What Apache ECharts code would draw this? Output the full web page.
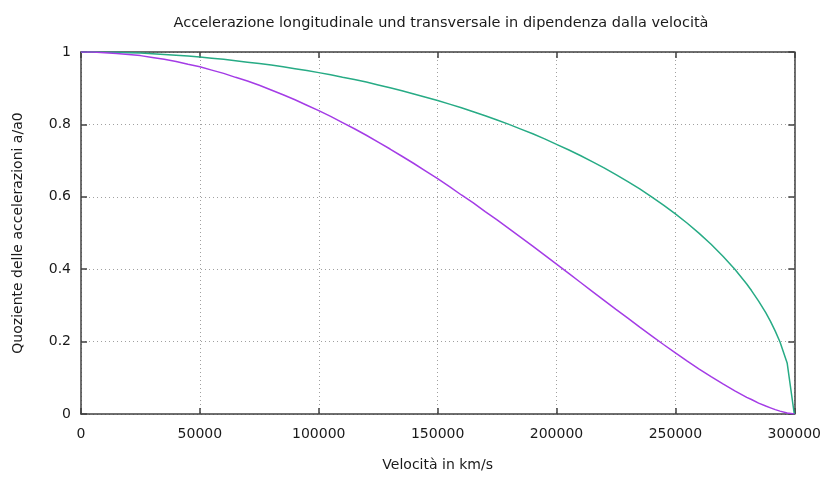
<!DOCTYPE html>
<html>
<head>
<meta charset="utf-8">
<script src="https://cdn.jsdelivr.net/npm/echarts@6/dist/echarts.min.js"></script>
<style>
  html, body { margin: 0; padding: 0; background: #fff; }
  #chart { width: 824px; height: 477px; }
</style>
</head>
<body>
<div id="chart"></div>
<script>
const velocities = [0, 5000, 10000, 15000, 20000, 25000, 30000, 35000, 40000, 45000,
  50000, 55000, 60000, 65000, 70000, 75000, 80000, 85000, 90000, 95000,
  100000, 105000, 110000, 115000, 120000, 125000, 130000, 135000, 140000, 145000,
  150000, 155000, 160000, 165000, 170000, 175000, 180000, 185000, 190000, 195000,
  200000, 205000, 210000, 215000, 220000, 225000, 230000, 235000, 240000, 245000,
  250000, 255000, 260000, 265000, 270000, 275000, 280000, 282000, 285000, 288000,
  290000, 292000, 294000, 297000, 300000]
const transversale = [1, 1.000, 0.999, 0.999, 0.998, 0.997, 0.995, 0.993, 0.991, 0.989,
  0.986, 0.983, 0.980, 0.976, 0.972, 0.968, 0.964, 0.959, 0.954, 0.949,
  0.943, 0.937, 0.930, 0.924, 0.917, 0.909, 0.901, 0.893, 0.884, 0.875,
  0.866, 0.856, 0.846, 0.835, 0.824, 0.812, 0.800, 0.787, 0.774, 0.760,
  0.745, 0.730, 0.714, 0.697, 0.680, 0.661, 0.642, 0.622, 0.600, 0.577,
  0.553, 0.527, 0.499, 0.469, 0.436, 0.400, 0.359, 0.341, 0.312, 0.280,
  0.256, 0.229, 0.199, 0.141, 0]
const longitudinale = [1, 1.000, 0.998, 0.996, 0.993, 0.990, 0.985, 0.980, 0.974, 0.966,
  0.959, 0.950, 0.941, 0.930, 0.920, 0.908, 0.895, 0.882, 0.868, 0.853,
  0.838, 0.822, 0.805, 0.788, 0.770, 0.751, 0.732, 0.712, 0.692, 0.671,
  0.650, 0.628, 0.605, 0.583, 0.559, 0.536, 0.512, 0.488, 0.464, 0.439,
  0.414, 0.389, 0.364, 0.339, 0.314, 0.289, 0.265, 0.240, 0.216, 0.192,
  0.169, 0.146, 0.124, 0.103, 0.083, 0.064, 0.046, 0.040, 0.030, 0.022,
  0.017, 0.012, 0.008, 0.003, 0]
const xTicks = [0, 50000, 100000, 150000, 200000, 250000, 300000]
const yTicks = [0, 0.2, 0.4, 0.6, 0.8, 1]

const font = 'DejaVu Sans'
const fontSize = 14
const axisColor = '#404040'
const textColor = '#1a1a1a'

const chart = echarts.init(document.getElementById('chart'), null, { renderer: 'canvas' })

const frameAxis = (extra) => Object.assign({
  axisLine: { show: true, onZero: false, lineStyle: { color: axisColor, width: 1.5 } },
  axisTick: { show: true, inside: true, length: 6, lineStyle: { color: axisColor, width: 1.5 } },
  axisLabel: { show: false },
  splitLine: { show: false },
}, extra)

chart.setOption({
  animation: false,
  backgroundColor: '#fff',
  title: {
    text: 'Accelerazione longitudinale und transversale in dipendenza dalla velocità',
    left: 436, top: 11, textAlign: 'center',
    textStyle: { fontFamily: font, fontSize: 14.5, fontWeight: 'normal', color: textColor },
  },
  grid: { left: 81, right: 27, top: 52, bottom: 59 },
  xAxis: [
    frameAxis({
      type: 'value', min: xTicks[0], max: xTicks[xTicks.length - 1], interval: 50000,
      name: 'Velocità in km/s', nameLocation: 'middle', nameGap: 44,
      nameTextStyle: { fontFamily: font, fontSize: fontSize, color: textColor },
      axisLabel: { show: true, margin: 13, fontFamily: font, fontSize: fontSize, color: textColor,
        formatter: v => String(v) },
      splitLine: { show: true, lineStyle: { color: '#a0a0a0', type: [1, 3], width: 1 } },
    }),
    frameAxis({
      type: 'value', position: 'top', min: xTicks[0], max: xTicks[xTicks.length - 1], interval: 50000,
    }),
  ],
  yAxis: [
    frameAxis({
      type: 'value', min: yTicks[0], max: yTicks[yTicks.length - 1], interval: 0.2,
      name: 'Quoziente delle accelerazioni a/a0', nameLocation: 'middle', nameGap: 56,
      nameTextStyle: { fontFamily: font, fontSize: fontSize, color: textColor },
      axisLabel: { show: true, margin: 10, fontFamily: font, fontSize: fontSize, color: textColor,
        formatter: v => String(Math.round(v * 10) / 10) },
      splitLine: { show: true, lineStyle: { color: '#a0a0a0', type: [1, 3], width: 1 } },
    }),
    frameAxis({
      type: 'value', position: 'right', min: yTicks[0], max: yTicks[yTicks.length - 1], interval: 0.2,
    }),
  ],
  series: [
    {
      name: 'transversale', type: 'line', symbol: 'none', smooth: false,
      data: velocities.map((v, i) => [v, transversale[i]]),
      lineStyle: { color: '#27ab85', width: 1.5 },
    },
    {
      name: 'longitudinale', type: 'line', symbol: 'none', smooth: false,
      data: velocities.map((v, i) => [v, longitudinale[i]]),
      lineStyle: { color: '#a43ce6', width: 1.5 },
    },
  ],
})
</script>
</body>
</html>
